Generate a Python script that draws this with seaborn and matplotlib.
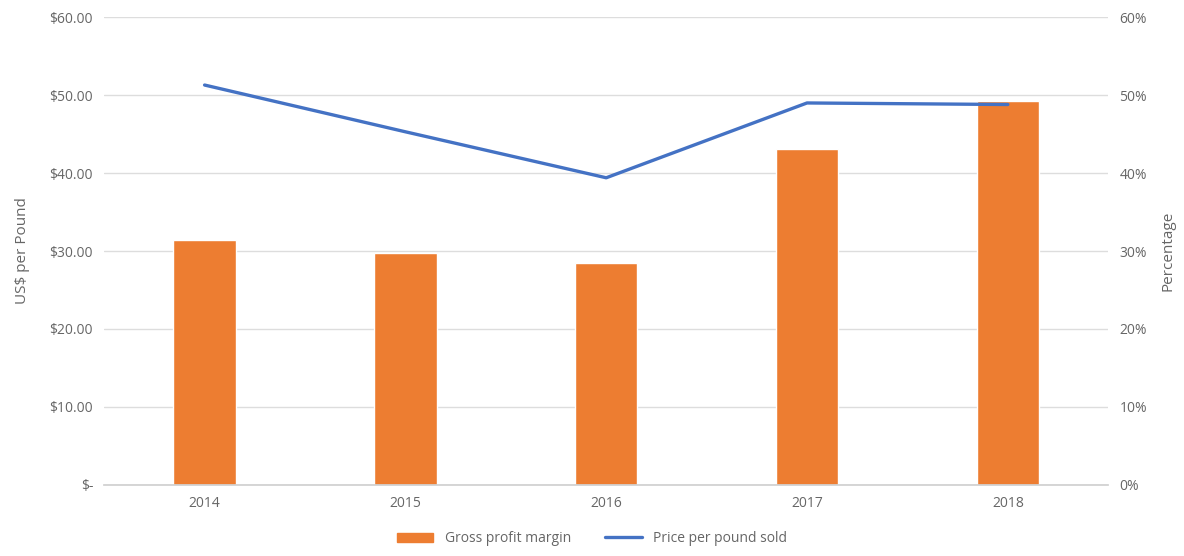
import matplotlib
matplotlib.use("Agg")
import matplotlib.pyplot as plt
import seaborn as sns
from matplotlib.patches import Patch
from matplotlib.lines import Line2D
from matplotlib.ticker import FuncFormatter, MultipleLocator

# 数据
years = ["2014", "2015", "2016", "2017", "2018"]
gross_margin = [31.4, 29.7, 28.5, 43.1, 49.2]    # 百分比，右轴
price_per_pound = [51.3, 45.3, 39.4, 49.0, 48.8]  # 美元，左轴

ORANGE = "#ED7D31"
BLUE = "#4472C4"
GRID = "#DDDDDD"
TEXT = "#666666"

sns.set_theme(style="white")
plt.rcParams.update({
    "font.family": ["Open Sans", "DejaVu Sans"],
    "font.size": 10,
    "text.color": TEXT,
    "axes.labelcolor": TEXT,
    "xtick.color": TEXT,
    "ytick.color": TEXT,
})

fig = plt.figure(figsize=(11.84, 5.56), dpi=100)
ax = fig.add_axes([0.088, 0.128, 0.848, 0.841])
ax2 = ax.twinx()

# 柱状图（右轴）画在下层，折线（左轴）在上层
sns.barplot(x=years, y=gross_margin, ax=ax2, color=ORANGE, width=0.31,
            saturation=1, order=years)
sns.pointplot(x=years, y=price_per_pound, ax=ax, color=BLUE, order=years,
              markers="", linewidth=2.4, errorbar=None)

ax.set_zorder(ax2.get_zorder() + 1)
ax.patch.set_visible(False)

for a in (ax, ax2):
    a.set_ylim(0, 60)
    a.yaxis.set_major_locator(MultipleLocator(10))
    a.tick_params(length=0, labelsize=10, pad=8)
    for s in a.spines.values():
        s.set_visible(False)
    a.set_xlim(-0.5, len(years) - 0.5)

ax2.grid(axis="y", color=GRID, linewidth=1)
ax2.set_axisbelow(True)
ax2.spines["bottom"].set_visible(True)
ax2.spines["bottom"].set_color("#D0D0D0")

ax.yaxis.set_major_formatter(FuncFormatter(lambda v, p: "$-" if v == 0 else f"${v:.2f}"))
ax2.yaxis.set_major_formatter(FuncFormatter(lambda v, p: f"{v:.0f}%"))

ax.set_ylabel("US$ per Pound", fontsize=11, labelpad=14)
ax2.set_ylabel("Percentage", fontsize=11, labelpad=10)
ax.set_xlabel("")
ax2.set_xlabel("")

handles = [Patch(color=ORANGE, label="Gross profit margin"),
           Line2D([0], [0], color=BLUE, lw=2.4, label="Price per pound sold")]
fig.legend(handles=handles, loc="lower center", ncol=2, frameon=False,
           bbox_to_anchor=(0.5, -0.005), fontsize=10, handlelength=2.6,
           columnspacing=2.5)

fig.savefig("out.png", dpi=100)
